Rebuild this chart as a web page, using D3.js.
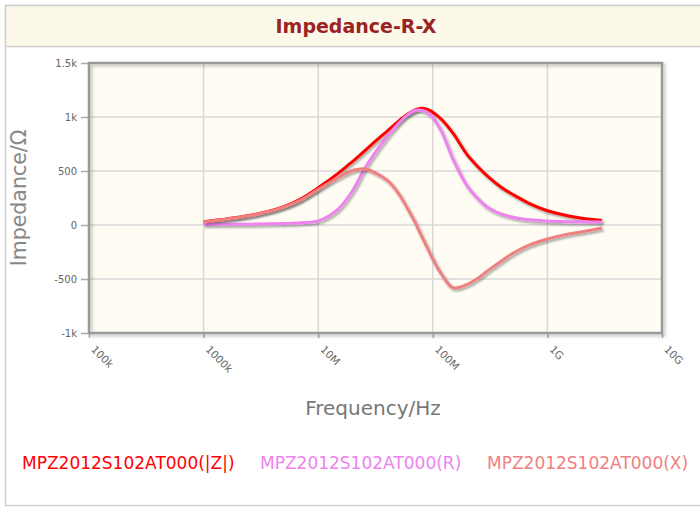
<!DOCTYPE html>
<html>
<head>
<meta charset="utf-8">
<script src="https://cdn.jsdelivr.net/npm/d3@7"></script>
<style>
  body { margin: 0; background: #fff; }
  svg { display: block; }
</style>
</head>
<body>
<script>
// frequency points in Hz (shared by all three series)
var freqs = [1e6, 2e6, 3e6, 5e6, 7e6, 1e7, 1.5e7, 2e7, 2.5e7, 3e7, 4e7, 5e7, 6e7, 7e7, 8e7, 9e7,
             1e8, 1.2e8, 1.5e8, 2e8, 2.5e8, 3e8, 4e8, 5e8, 7e8, 1e9, 1.5e9, 2e9, 3e9];

// impedance values in ohm
var zValues = [30, 72, 105, 170, 240, 345, 480, 590, 680, 755, 870, 960, 1025, 1065, 1080, 1070,
               1045, 975, 850, 650, 535, 452, 345, 282, 198, 132, 86, 63, 42];
var rValues = [5, 7, 9, 14, 20, 38, 150, 320, 510, 640, 820, 940, 1020, 1060, 1062, 1040,
               995, 860, 610, 360, 240, 165, 100, 72, 48, 37, 31, 29, 28];
var xValues = [28, 70, 102, 165, 230, 330, 440, 505, 520, 495, 415, 295, 155, 25, -105, -215,
               -315, -460, -580, -550, -490, -425, -330, -262, -185, -130, -86, -63, -28];

var seriesNames = ["MPZ2012S102AT000(|Z|)", "MPZ2012S102AT000(R)", "MPZ2012S102AT000(X)"];
var seriesColors = ["#ff0000", "#ee82ee", "#f08080"];

var xTicks = [1e5, 1e6, 1e7, 1e8, 1e9, 1e10];
var xTickLabels = ["100k", "1000k", "10M", "100M", "1G", "10G"];
var yTicks = [-1000, -500, 0, 500, 1000, 1500];
var yTickLabels = ["-1k", "-500", "0", "500", "1k", "1.5k"];

var W = 700, H = 507;
var plot = {left: 89, right: 662, top: 63, bottom: 333};

var svg = d3.select("body").append("svg")
    .attr("width", W)
    .attr("height", H);

var defs = svg.append("defs");
defs.append("filter").attr("id", "shadow")
    .attr("x", "-10%").attr("y", "-10%").attr("width", "130%").attr("height", "130%")
  .append("feDropShadow")
    .attr("dx", 1.5).attr("dy", 2).attr("stdDeviation", 1)
    .attr("flood-color", "#000").attr("flood-opacity", 0.35);
defs.append("filter").attr("id", "frameShadow")
    .attr("x", "-5%").attr("y", "-5%").attr("width", "110%").attr("height", "110%")
  .append("feDropShadow")
    .attr("dx", 2).attr("dy", 2).attr("stdDeviation", 1.5)
    .attr("flood-color", "#000").attr("flood-opacity", 0.25);

// outer frame + title band
svg.append("rect")
    .attr("x", 5.5).attr("y", 5.5).attr("width", W).attr("height", 500)
    .attr("fill", "#fff").attr("stroke", "#cfcfcf").attr("stroke-width", 1.5);
svg.append("rect")
    .attr("x", 5.5).attr("y", 5.5).attr("width", W).attr("height", 41)
    .attr("fill", "#fdf9ea").attr("stroke", "#cfcfcf").attr("stroke-width", 1.5);
svg.append("text")
    .attr("x", 356).attr("y", 33)
    .attr("text-anchor", "middle")
    .attr("font-family", "DejaVu Sans, sans-serif")
    .attr("font-weight", "bold")
    .attr("font-size", 19)
    .attr("fill", "#9b2323")
    .text("Impedance-R-X");

var x = d3.scaleLog().domain([1e5, 1e10]).range([plot.left, plot.right]);
var y = d3.scaleLinear().domain([-1000, 1500]).range([plot.bottom, plot.top]);

// plot background
svg.append("rect")
    .attr("x", plot.left).attr("y", plot.top)
    .attr("width", plot.right - plot.left).attr("height", plot.bottom - plot.top)
    .attr("fill", "#fefcf3");

// grid
var grid = svg.append("g").attr("stroke", "#d8d8d8").attr("stroke-width", 1.5);
grid.selectAll(".gx").data(xTicks).enter().append("line")
    .attr("x1", function(d) { return x(d); }).attr("x2", function(d) { return x(d); })
    .attr("y1", plot.top).attr("y2", plot.bottom);
grid.selectAll(".gy").data(yTicks).enter().append("line")
    .attr("x1", plot.left).attr("x2", plot.right)
    .attr("y1", function(d) { return y(d); }).attr("y2", function(d) { return y(d); });

// axes
var xAxis = d3.axisBottom(x)
    .tickValues(xTicks)
    .tickSize(5)
    .tickFormat(function(d, i) { return xTickLabels[i]; });
var yAxis = d3.axisLeft(y)
    .tickValues(yTicks)
    .tickSize(8)
    .tickFormat(function(d, i) { return yTickLabels[i]; });

var gx = svg.append("g").attr("transform", "translate(0," + plot.bottom + ")").call(xAxis);
var gy = svg.append("g").attr("transform", "translate(" + plot.left + ",0)").call(yAxis);

[gx, gy].forEach(function(g) {
    g.attr("color", "#666");
    g.select(".domain").remove();
    g.selectAll(".tick line").attr("stroke", "#aaa").attr("stroke-width", 1.5);
    g.selectAll("text")
        .attr("font-family", "DejaVu Sans, sans-serif")
        .attr("font-size", 10)
        .attr("fill", "#666");
});
gy.selectAll("text").attr("x", -12);
gx.selectAll("text")
    .attr("text-anchor", "start")
    .attr("dy", 0)
    .attr("y", 0)
    .attr("font-size", 10.5)
    .attr("transform", "translate(1,17) rotate(45)");

// plot frame
svg.append("rect")
    .attr("x", plot.left).attr("y", plot.top)
    .attr("width", plot.right - plot.left).attr("height", plot.bottom - plot.top)
    .attr("fill", "none").attr("stroke", "#999").attr("stroke-width", 2.5)
    .attr("filter", "url(#frameShadow)");

// axis titles
svg.append("text")
    .attr("transform", "translate(26,198) rotate(-90)")
    .attr("text-anchor", "middle")
    .attr("font-family", "DejaVu Sans, sans-serif")
    .attr("font-size", 20.5)
    .attr("fill", "#888")
    .text("Impedance/Ω");
svg.append("text")
    .attr("x", 373).attr("y", 415)
    .attr("text-anchor", "middle")
    .attr("font-family", "DejaVu Sans, sans-serif")
    .attr("font-size", 20)
    .attr("fill", "#777")
    .text("Frequency/Hz");

// series
var series = [zValues, rValues, xValues].map(function(vals, i) {
    return {name: seriesNames[i], color: seriesColors[i],
            points: freqs.map(function(f, j) { return {f: f, v: vals[j]}; })};
});

var line = d3.line()
    .x(function(d) { return x(d.f); })
    .y(function(d) { return y(d.v); })
    .curve(d3.curveCatmullRom.alpha(0.5));

svg.append("g").selectAll("path").data(series).enter().append("path")
    .attr("d", function(d) { return line(d.points); })
    .attr("fill", "none")
    .attr("stroke", function(d) { return d.color; })
    .attr("stroke-width", 3)
    .attr("stroke-linejoin", "round")
    .attr("filter", "url(#shadow)");

// legend
var legendX = [22, 260, 487];
svg.append("g").selectAll("text").data(series).enter().append("text")
    .attr("x", function(d, i) { return legendX[i]; })
    .attr("y", 469)
    .attr("font-family", "DejaVu Sans, sans-serif")
    .attr("font-size", 17)
    .attr("fill", function(d) { return d.color; })
    .text(function(d) { return d.name; });
</script>
</body>
</html>
